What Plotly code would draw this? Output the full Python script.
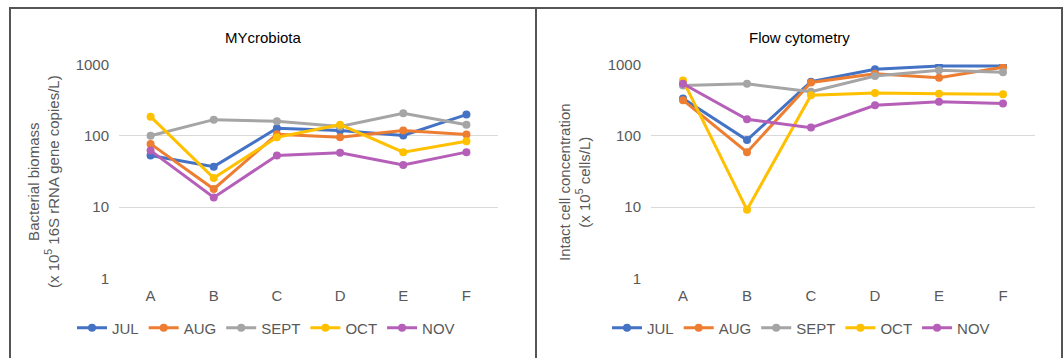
import plotly.graph_objects as go

W, H = 1063, 358

sites = ["A", "B", "C", "D", "E", "F"]
months = ["JUL", "AUG", "SEPT", "OCT", "NOV"]
colors = ["#4472C4", "#ED7D31", "#A5A5A5", "#FFC000", "#B65FB9"]

# MYcrobiota: bacterial biomass (x 10^5 16S rRNA gene copies/L)
myc_jul = [53, 37, 127, 118, 101, 198]
myc_aug = [77, 18, 105, 95, 118, 104]
myc_sept = [100, 168, 159, 135, 206, 143]
myc_oct = [185, 25.6, 95, 143, 59, 84]
myc_nov = [62, 13.7, 53, 58, 39, 59]

# Flow cytometry: intact cell concentration (x 10^5 cells/L)
fc_jul = [332, 87, 570, 850, 950, 950]
fc_aug = [315, 59, 557, 739, 649, 907]
fc_sept = [506, 534, 412, 685, 823, 771]
fc_oct = [595, 9.2, 370, 395, 386, 382]
fc_nov = [534, 170, 130, 267, 298, 282]

myc = [myc_jul, myc_aug, myc_sept, myc_oct, myc_nov]
fc = [fc_jul, fc_aug, fc_sept, fc_oct, fc_nov]

FONT = "Liberation Sans, Arial, sans-serif"
GRAY = "#595959"


def px(x):
    return x / W


def py(y):
    return (H - y) / H


fig = go.Figure()

for i, m in enumerate(months):
    fig.add_trace(go.Scatter(
        x=sites, y=myc[i], name=m, mode="lines+markers",
        line=dict(color=colors[i], width=3),
        marker=dict(color=colors[i], size=8),
        xaxis="x", yaxis="y", legend="legend"))
for i, m in enumerate(months):
    fig.add_trace(go.Scatter(
        x=sites, y=fc[i], name=m, mode="lines+markers",
        line=dict(color=colors[i], width=3),
        marker=dict(color=colors[i], size=8),
        xaxis="x2", yaxis="y2", legend="legend2"))

ybot, ytop = 278, 65

yax = dict(type="log", range=[-0.004, 3.004], tickvals=[1, 10, 100, 1000],
           ticktext=["1", "10", "100", "1000"], showgrid=True,
           gridcolor="#d9d9d9", gridwidth=1, showline=False, zeroline=False,
           tickfont=dict(family=FONT, size=15, color=GRAY),
           ticklabelstandoff=9, automargin=False,
           domain=[py(ybot + 1), py(ytop - 1)])
xax = dict(type="category", range=[-0.5, 5.5], showgrid=False,
           showline=False, zeroline=False,
           tickfont=dict(family=FONT, size=15, color=GRAY),
           ticklabelstandoff=6, automargin=False)

leg = dict(orientation="h", xanchor="center", yanchor="middle",
           font=dict(family=FONT, size=15, color=GRAY),
           bgcolor="rgba(0,0,0,0)", itemclick=False, tracegroupgap=0)

fig.update_layout(
    width=W, height=H, autosize=False,
    margin=dict(l=0, r=0, t=0, b=0),
    paper_bgcolor="white", plot_bgcolor="white",
    font=dict(family=FONT, size=15, color=GRAY),
    xaxis=dict(xax, domain=[px(119), px(498)], anchor="y"),
    yaxis=dict(yax, anchor="x"),
    xaxis2=dict(xax, domain=[px(651), px(1035)], anchor="y2"),
    yaxis2=dict(yax, anchor="x2"),
    legend=dict(leg, x=px(266), y=py(328)),
    legend2=dict(leg, x=px(801), y=py(328)),
    annotations=[
        dict(text="MYcrobiota", x=px(263), y=py(37), xref="paper", yref="paper",
             xanchor="center", yanchor="middle",
             showarrow=False, font=dict(family=FONT, size=15, color="#000000")),
        dict(text="Flow cytometry", x=px(799), y=py(37), xref="paper", yref="paper",
             xanchor="center", yanchor="middle",
             showarrow=False, font=dict(family=FONT, size=15, color="#000000")),
        dict(text="Bacterial biomass<br>(x 10<sup>5</sup> 16S rRNA gene copies/L)",
             x=px(43), y=py(182), xref="paper", yref="paper", textangle=-90,
             xanchor="center", yanchor="middle",
             showarrow=False, font=dict(family=FONT, size=15, color=GRAY)),
        dict(text="Intact cell concentration<br>(x 10<sup>5</sup> cells/L)",
             x=px(574), y=py(182), xref="paper", yref="paper", textangle=-90,
             xanchor="center", yanchor="middle",
             showarrow=False, font=dict(family=FONT, size=15, color=GRAY)),
    ],
    shapes=[
        dict(type="rect", xref="paper", yref="paper", x0=px(10), x1=px(536),
             y0=py(380), y1=py(8), line=dict(color="#555555", width=2)),
        dict(type="rect", xref="paper", yref="paper", x0=px(536), x1=px(1062),
             y0=py(380), y1=py(8), line=dict(color="#555555", width=2)),
    ],
)

fig.write_html(
    "out.html",
    config={"displayModeBar": False},
    post_script="document.body.style.margin='0';document.body.style.overflow='hidden';",
)
